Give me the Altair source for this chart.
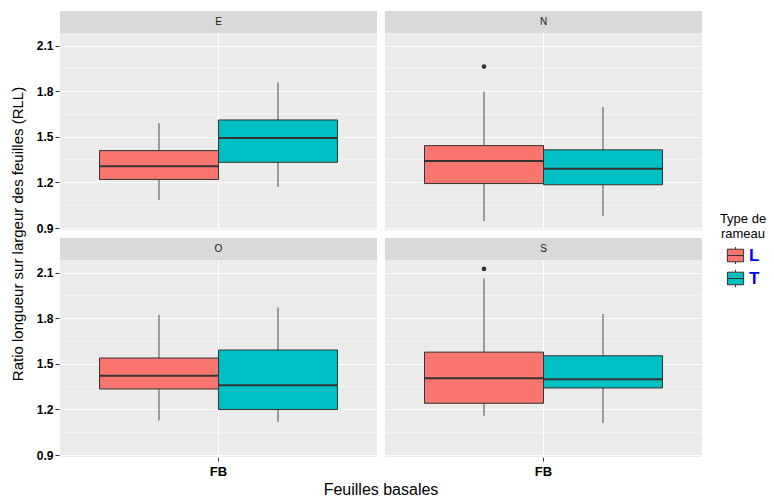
import altair as alt
import pandas as pd

# Boxplot summaries of the length/width ratio, per exposure panel and branch type
PANELS = ["E", "E", "N", "N", "O", "O", "S", "S"]
TYPES = ["L", "T", "L", "T", "L", "T", "L", "T"]
WHISK_LO = [1.086, 1.171, 0.946, 0.979, 1.128, 1.117, 1.158, 1.110]
Q1 = [1.220, 1.333, 1.193, 1.185, 1.335, 1.200, 1.241, 1.342]
MEDIAN = [1.307, 1.493, 1.342, 1.290, 1.423, 1.360, 1.406, 1.399]
Q3 = [1.410, 1.612, 1.443, 1.415, 1.539, 1.592, 1.578, 1.554]
WHISK_HI = [1.592, 1.859, 1.800, 1.697, 1.824, 1.872, 2.063, 1.830]
OUTLIER = [None, None, 1.964, None, None, None, 2.126, None]

# 2 x 2 grid placement of the panels
PANEL_ROW = {"E": 0, "N": 0, "O": 1, "S": 1}
PANEL_COL = {"E": 0, "N": 1, "O": 0, "S": 1}
CATEGORY = "FB"
Y_BREAKS = [0.9, 1.2, 1.5, 1.8, 2.1]
Y_MINOR = [1.05, 1.35, 1.65, 1.95]
FILL = ["#F8766D", "#00BFC4"]

df = pd.DataFrame({
    "panel": PANELS, "type": TYPES, "grp": CATEGORY,
    "lo": WHISK_LO, "q1": Q1, "med": MEDIAN, "q3": Q3, "hi": WHISK_HI,
    "out": OUTLIER,
})
df["r"] = df["panel"].map(PANEL_ROW)
df["c"] = df["panel"].map(PANEL_COL)

# ggplot-style 5% expansion of the data range
all_vals = WHISK_LO + WHISK_HI + [v for v in OUTLIER if v is not None]
vmin, vmax = min(all_vals), max(all_vals)
pad = 0.05 * (vmax - vmin)
y_dom = [vmin - pad, vmax + pad]

W, H = 317, 197
STRIP_H = 22
FONT = "Liberation Sans"
Y_TITLE = "Ratio longueur sur largeur des feuilles (RLL)"
X_TITLE = "Feuilles basales"

y_scale = alt.Scale(domain=y_dom, nice=False, zero=False)
y_axis = alt.Axis(values=Y_BREAKS, format=".1f", grid=True)

x_enc = alt.X("grp:N", title=None,
              scale=alt.Scale(paddingInner=0, paddingOuter=0.166),
              axis=alt.Axis(grid=True, labelAngle=0))
xo_enc = alt.XOffset("type:N", scale=alt.Scale(paddingInner=0, paddingOuter=0))


def Y(field):
    return alt.Y(field, title=None, scale=y_scale, axis=y_axis)


base = alt.Chart()

minor_grid = base.transform_filter("datum.type == 'L'").transform_calculate(
    minor=str(Y_MINOR)
).transform_flatten(["minor"]).mark_rule(color="white", strokeWidth=0.55).encode(
    y=Y("minor:Q")
)

whiskers = base.mark_rule(color="#4d4d4d", strokeWidth=1).encode(
    x=x_enc, xOffset=xo_enc, y=Y("lo:Q"), y2="hi:Q"
)

boxes = base.mark_bar(stroke="#333333", strokeWidth=1).encode(
    x=x_enc, xOffset=xo_enc, y=Y("q1:Q"), y2="q3:Q",
    fill=alt.Fill("type:N", scale=alt.Scale(domain=["L", "T"], range=FILL),
                  legend=alt.Legend(title=["Type de", "rameau"]))
)

medians = base.mark_bar(stroke="#333333", strokeWidth=2, fillOpacity=0).encode(
    x=x_enc, xOffset=xo_enc, y=Y("med:Q"), y2="med:Q"
)

outliers = base.transform_filter("isValid(datum.out)").mark_point(
    filled=True, color="#333333", size=22, opacity=1
).encode(x=x_enc, xOffset=xo_enc, y=Y("out:Q"))

strip_bg = base.transform_filter("datum.type == 'L'").mark_rect(color="#D9D9D9").encode(
    x=alt.value(0), x2=alt.value(W), y=alt.value(-STRIP_H), y2=alt.value(0)
)

strip_txt = base.transform_filter("datum.type == 'L'").mark_text(
    font=FONT, fontSize=10, color="#1A1A1A", baseline="middle", align="center"
).encode(x=alt.value(W / 2), y=alt.value(-STRIP_H / 2), text="panel:N")

panel = alt.layer(
    minor_grid, whiskers, boxes, medians, outliers, strip_bg, strip_txt, data=df
).properties(width=W, height=H)

chart = panel.facet(
    row=alt.Row("r:O", header=alt.Header(
        title=Y_TITLE, titleOrient="left", labels=False,
        titleFont=FONT, titleFontSize=15, titleFontWeight="normal", titleColor="black",
        titlePadding=0,
    )),
    column=alt.Column("c:O", header=alt.Header(
        title=X_TITLE, titleOrient="bottom", labelOrient="bottom", labels=False,
        titleFont=FONT, titleFontSize=16, titleFontWeight="normal", titleColor="black",
        titlePadding=-6,
    )),
    spacing={"row": 8, "column": 6},
).properties(
    padding={"left": 10, "top": 11, "right": 0, "bottom": 0}
).configure_view(
    fill="#EBEBEB", stroke=None
).configure_axis(
    gridColor="white", gridWidth=1.1, domain=False,
    tickColor="#333333", tickSize=4,
    labelFont=FONT, labelColor="black", labelFontWeight="bold",
).configure_axisY(
    labelFontSize=12, labelPadding=2,
).configure_axisX(
    labelFontSize=13, labelPadding=4,
).configure_legend(
    orient="none", legendX=660, legendY=180,
    titleFont=FONT, titleFontSize=13, titleFontWeight="normal", titleColor="black",
    titleAlign="center", titleAnchor="middle",
    labelFont=FONT, labelFontSize=17, labelFontWeight="bold", labelColor="blue",
    symbolType="M-0.9,-0.7H0.9V0.7H-0.9Z M-0.9,0H0.9 M0,-0.7V-0.95 M0,0.7V0.95",
    symbolSize=324, symbolStrokeColor="#333333", symbolStrokeWidth=1,
    rowPadding=0, labelOffset=4,
)

chart.save("out.html", embed_options={"renderer": "svg", "actions": False})
